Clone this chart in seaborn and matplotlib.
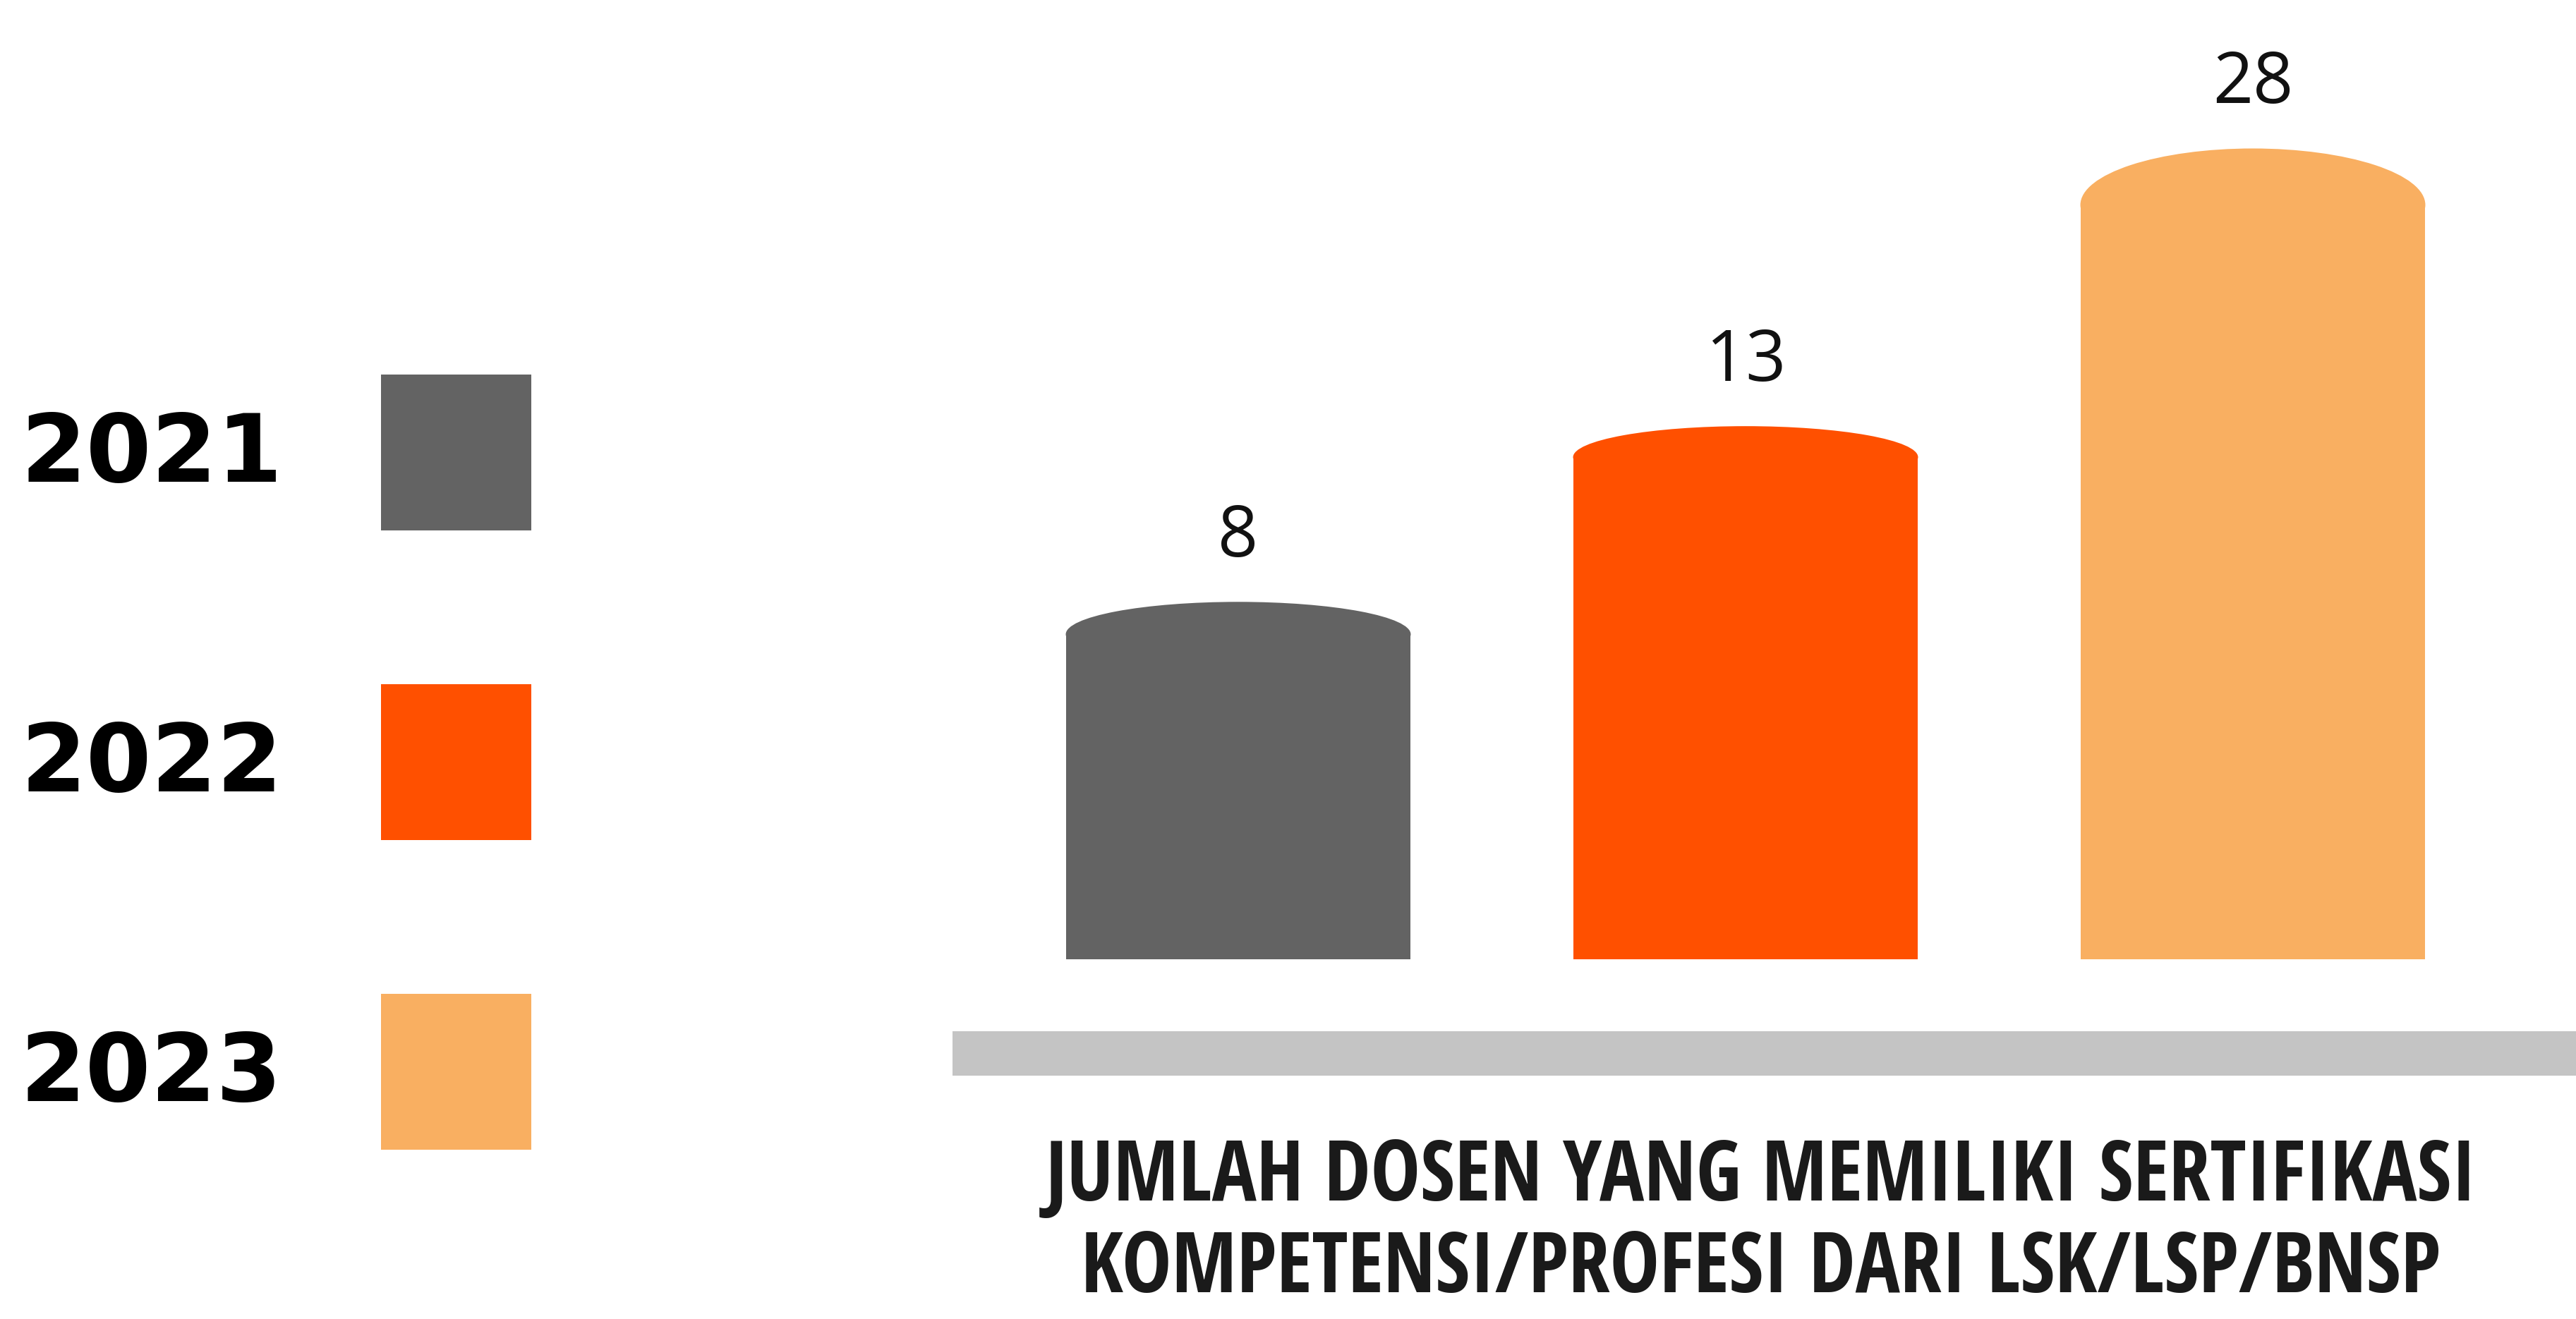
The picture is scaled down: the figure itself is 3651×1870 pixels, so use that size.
import os
import pandas as pd
import seaborn as sns
import matplotlib.pyplot as plt
from matplotlib import font_manager as fm
from matplotlib.patches import Ellipse, Rectangle, Patch

# data
years = ["2021", "2022", "2023"]
jumlah = [8, 13, 28]
warna = ["#636363", "#FF5000", "#F9AF61"]
judul = ["JUMLAH DOSEN YANG MEMILIKI SERTIFIKASI",
         "KOMPETENSI/PROFESI DARI LSK/LSP/BNSP"]

W, H = 3651, 1870
DPI = 100


def cari_font_condensed():
    # font bold yang sempit untuk judul bawah
    pilihan = ["open sans condensed", "roboto condensed", "liberation sans narrow",
               "dejavu sans condensed", "dejavusanscondensed"]
    ada = []
    for f in fm.fontManager.ttflist:
        nama = (f.name + " " + os.path.basename(f.fname)).lower()
        berat = f.weight if isinstance(f.weight, int) else fm.weight_dict.get(f.weight, 400)
        if berat < 600 or f.style != "normal":
            continue
        if "condensed" in nama or "narrow" in nama or "condensed" in str(f.stretch):
            ada.append((nama, f.fname))
    for p in pilihan:
        for nama, path in ada:
            if p in nama:
                return path
    return ada[0][1] if ada else None


sns.set_theme(style="white")
plt.rcParams["font.family"] = ["DejaVu Sans"]

fig = plt.figure(figsize=(W / DPI, H / DPI), dpi=DPI)
fig.patch.set_facecolor("white")
ax = fig.add_axes([0, 1 - 1360 / H, 1, 1360 / H])

df = pd.DataFrame({"tahun": years, "jumlah": jumlah})
sns.barplot(data=df, x="tahun", y="jumlah", hue="tahun", palette=warna,
            saturation=1, width=0.68, linewidth=0, legend=False, ax=ax)
ax.set_yscale("log")
ax.set_ylim(2.98, 42.2)
ax.set_xlim(-1755 / 719, (W - 1755) / 719)
ax.axis("off")

# angka di atas batang
for c in ax.containers:
    ax.bar_label(c, fmt="%d", padding=29, fontsize=72, family="Open Sans",
                 color="#111111")

# tutup batang berbentuk elips
cap_px = [46, 44, 80]
for c, cap in zip(ax.containers, cap_px):
    for bar in c:
        x0 = bar.get_x()
        w = bar.get_width()
        v = bar.get_y() + bar.get_height()
        px0, ptop = ax.transData.transform((x0, v))
        px1, _ = ax.transData.transform((x0 + w, v))
        body_px = ptop - cap
        body_val = ax.transData.inverted().transform((px0, body_px))[1]
        bar.set_height(body_val - bar.get_y())
        fig.add_artist(Ellipse(((px0 + px1) / 2 / W, body_px / H), (px1 - px0) / W, 2 * cap / H,
                               transform=fig.transFigure, facecolor=bar.get_facecolor(),
                               edgecolor="none", lw=0))

# garis abu-abu di bawah batang
fig.add_artist(Rectangle((1350 / W, (H - 1525) / H), (W - 1350) / W, 63 / H,
                         transform=fig.transFigure, facecolor="#C4C4C4", edgecolor="none", lw=0))

# legenda kiri (kotak 213x221 px, jarak baris 439 px)
fs = 96
em = fs * DPI / 72
hh = (221 / em - 0.245) / 0.65
fig.legend([Patch(facecolor=c, edgecolor="none") for c in warna], years,
           loc="upper right", bbox_to_anchor=(753 / W, 1 - 531 / H),
           markerfirst=False, frameon=False, borderpad=0, borderaxespad=0,
           handlelength=213 / em, handleheight=hh, labelspacing=(439 - 221) / em,
           handletextpad=140 / em, labelcolor="black",
           prop={"family": "DejaVu Sans", "weight": "bold", "size": fs})

# judul bawah
ukuran = 85
path = cari_font_condensed()
if path:
    fp = fm.FontProperties(fname=path, size=ukuran)
else:
    fp = fm.FontProperties(family="DejaVu Sans", weight="bold", size=ukuran)
r = fig.canvas.get_renderer()
t1 = fig.text(2496 / W, (H - 1702) / H, judul[0], ha="center", va="baseline",
              fontproperties=fp, color="#1a1a1a")
t2 = fig.text(2496 / W, (H - 1832) / H, judul[1], ha="center", va="baseline",
              fontproperties=fp, color="#1a1a1a")
lebar = t1.get_window_extent(r).width
if lebar > 2304:
    for t in (t1, t2):
        t.set_fontsize(ukuran * 2304 / lebar)

fig.savefig("out.png", dpi=DPI, facecolor="white")
